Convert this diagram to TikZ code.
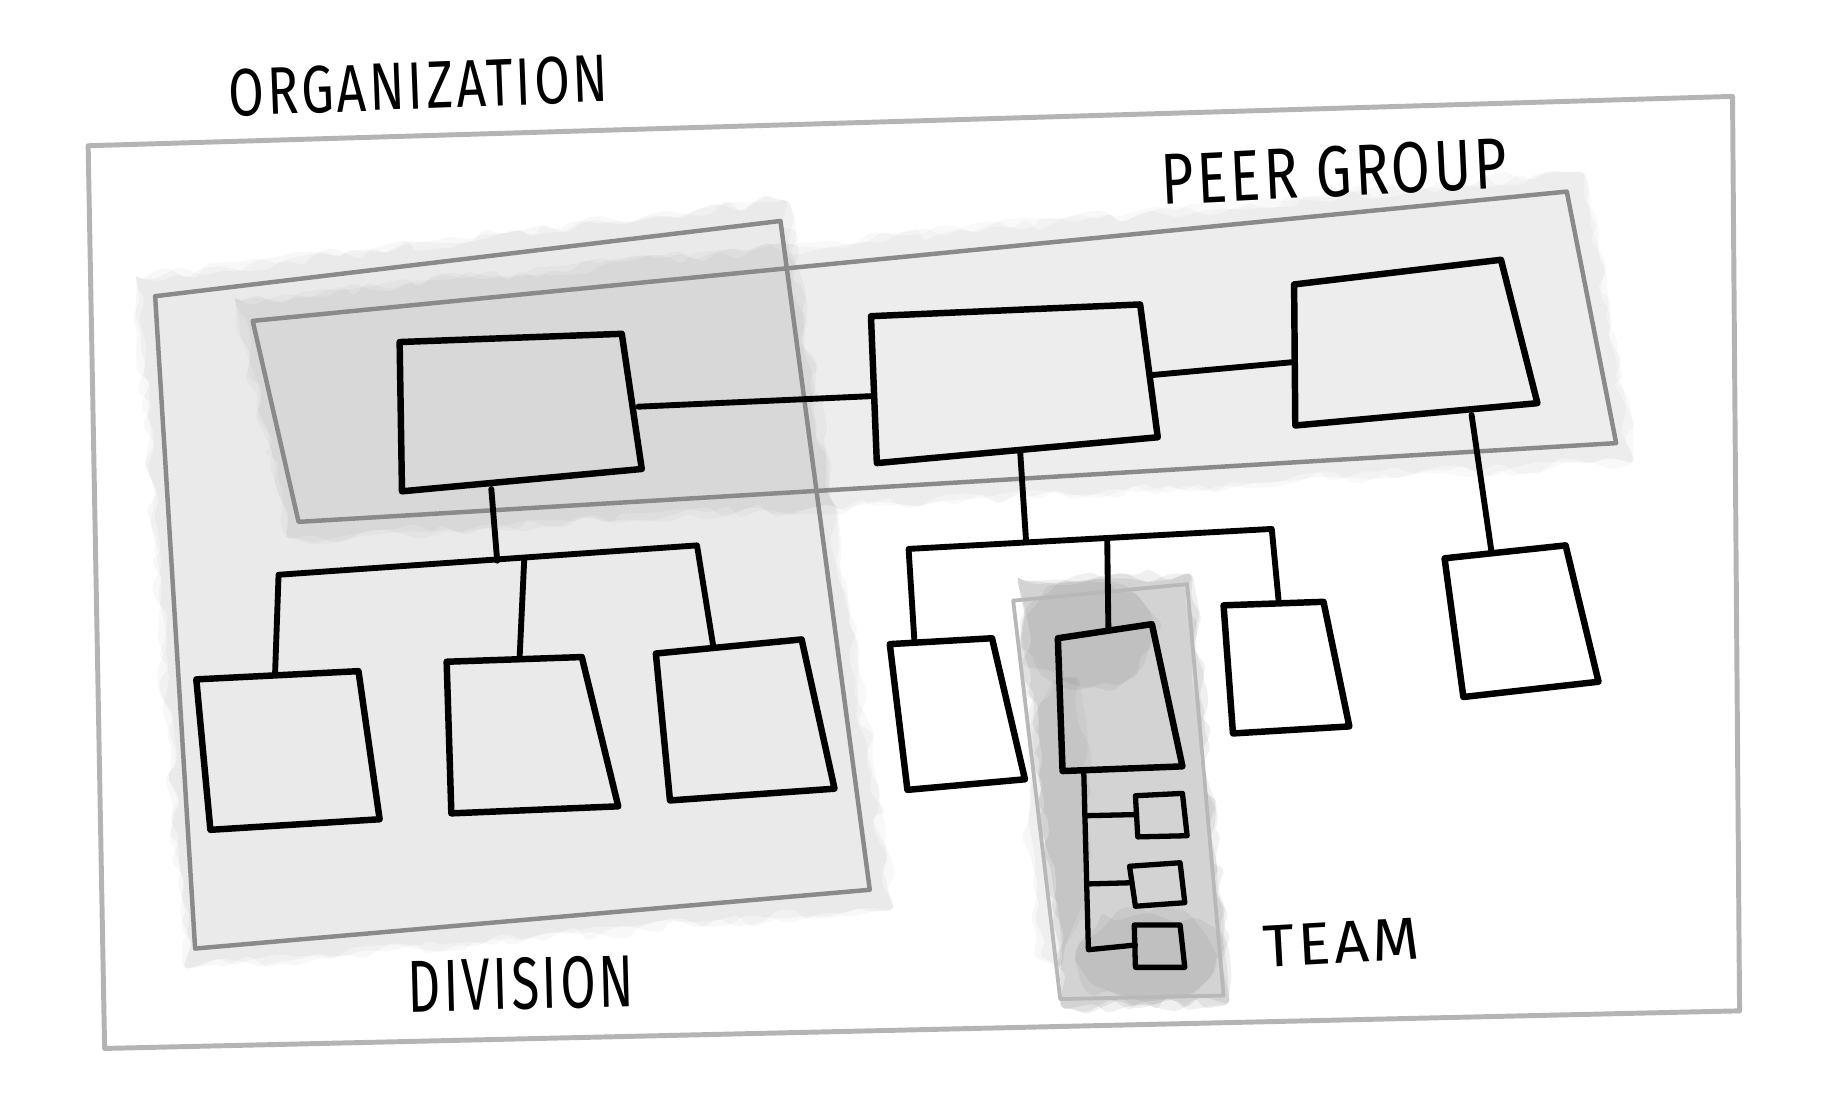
\documentclass[tikz,border=0pt]{standalone}
\usepackage{fontspec}
\usepackage{graphicx}
\usetikzlibrary{decorations.pathmorphing}
\newfontfamily\hand{Fira Sans}[LetterSpace=6]
\definecolor{orgc}{HTML}{B4B4B4}
\definecolor{grpc}{HTML}{8A8A8A}
\definecolor{teamc}{HTML}{B8B8B8}
\begin{document}
\pgfmathsetseed{42}
\begin{tikzpicture}[x=1pt,y=-1pt,
  blk/.style={line width=5.5pt, line join=round, line cap=round, draw=black},
  smallblk/.style={line width=4.5pt, line join=round, line cap=round, draw=black},
  conn/.style={line width=5pt, line cap=round, line join=round, draw=black},
  orgline/.style={line width=4.2pt, draw=orgc, line join=round},
  grpline/.style={line width=3.8pt, draw=grpc, line join=round},
  teamline/.style={line width=3.2pt, draw=teamc, line join=round},
  wash/.style={fill=black, draw=none, decorate, decoration={random steps, segment length=14pt, amplitude=7pt}, rounded corners=5pt},
  lbl/.style={inner sep=0pt, anchor=center}
]
\useasboundingbox (0,0) rectangle (1568,946);
\fill[white] (0,0) rectangle (1568,946);

% ---------- washes (layered for soft edges) ----------
\foreach \k in {1,2,3} {
  \fill[wash, fill opacity=0.027] (116,238) -- (668,170) -- (760,772) -- (158,824) -- cycle;
  \fill[wash, fill opacity=0.024] (200,256) -- (1345,146) -- (1390,392) -- (246,458) -- cycle;
  \fill[wash, fill opacity=0.06] (866,494) -- (1012,488) -- (1046,852) -- (905,858) -- cycle;
}
\foreach \k in {1,2} {
  \fill[wash, fill opacity=0.045] (925,540) ellipse [x radius=55, y radius=45];
  \fill[wash, fill opacity=0.045] (975,815) ellipse [x radius=60, y radius=38];
  \fill[wash, fill opacity=0.03] (900,700) ellipse [x radius=25, y radius=120];
}

% ---------- group frames ----------
\draw[orgline] (75,124) -- (1474,82) -- (1480,860) -- (89,892) -- cycle;
\draw[grpline] (132,252) -- (664,188) -- (740,757) -- (166,807) -- cycle;
\draw[grpline] (215,273) -- (1333,163) -- (1375,377) -- (254,444) -- cycle;
\draw[teamline] (862,511) -- (1010,497) -- (1041,847) -- (902,850) -- cycle;

% ---------- boxes ----------
\draw[blk] (340,291) -- (529,284) -- (546,399) -- (342,418) -- cycle;
\draw[blk] (741,269) -- (970,259) -- (985,372) -- (746,394) -- cycle;
\draw[blk] (1101,242) -- (1277,221) -- (1308,343) -- (1102,362) -- cycle;
\draw[blk] (167,578) -- (305,571) -- (323,697) -- (179,706) -- cycle;
\draw[blk] (380,563) -- (495,559) -- (526,686) -- (384,692) -- cycle;
\draw[blk] (558,556) -- (682,544) -- (710,671) -- (570,681) -- cycle;
\draw[blk] (757,548) -- (844,543) -- (872,663) -- (772,672) -- cycle;
\draw[blk] (900,543) -- (980,531) -- (1006,652) -- (904,656) -- cycle;
\draw[blk] (1041,515) -- (1126,512) -- (1148,618) -- (1049,624) -- cycle;
\draw[blk] (1229,475) -- (1332,464) -- (1360,580) -- (1245,593) -- cycle;
\draw[smallblk] (966,677) -- (1006,675) -- (1010,711) -- (968,712) -- cycle;
\draw[smallblk] (961,737) -- (1004,734) -- (1008,768) -- (966,771) -- cycle;
\draw[smallblk] (965,787) -- (1004,787) -- (1008,823) -- (966,823) -- cycle;

% ---------- connector points ----------
\coordinate (aR) at (543,346);
\coordinate (bL) at (742,337);
\coordinate (bR) at (981,319);
\coordinate (cL) at (1101,308);
\coordinate (aB) at (418,416);
\coordinate (aJ) at (423,477);
\coordinate (dbarL) at (237,489);
\coordinate (dbarM) at (446,476);
\coordinate (dbarR) at (593,464);
\coordinate (d1T) at (234,574);
\coordinate (d2T) at (442,561);
\coordinate (d3T) at (607,551);
\coordinate (bB) at (868,385);
\coordinate (bJ) at (873,461);
\coordinate (ebarL) at (773,467);
\coordinate (ebarM) at (942,458);
\coordinate (ebarR) at (1082,450);
\coordinate (e1T) at (778,546);
\coordinate (e2T) at (943,536);
\coordinate (e3T) at (1088,513);
\coordinate (cB) at (1252,353);
\coordinate (c2T) at (1269,470);
\coordinate (e2B) at (922,655);
\coordinate (tEnd) at (926,808);
\coordinate (t1) at (923,694);
\coordinate (t2) at (927,752);
\coordinate (s1L) at (967,693);
\coordinate (s2L) at (963,751);
\coordinate (s3L) at (966,804);

% ---------- connectors ----------
\draw[conn] (aR) -- (bL);
\draw[conn] (bR) -- (cL);
\draw[conn] (aB) -- (aJ);
\draw[conn] (d1T) -- (dbarL) -- (dbarR) -- (d3T);
\draw[conn] (dbarM) -- (d2T);
\draw[conn] (bB) -- (bJ);
\draw[conn] (e1T) -- (ebarL) -- (ebarR) -- (e3T);
\draw[conn] (ebarM) -- (e2T);
\draw[conn] (cB) -- (c2T);
\draw[smallblk] (e2B) -- (tEnd) -- (s3L);
\draw[smallblk] (t1) -- (s1L);
\draw[smallblk] (t2) -- (s2L);

% ---------- labels ----------
\node[lbl, rotate=2.2] (org) at (356,73) {\resizebox{323pt}{40pt}{\hand ORGANIZATION}};
\node[lbl, rotate=2.8] (peer) at (1135,146) {\resizebox{295pt}{43pt}{\hand PEER GROUP}};
\node[lbl, rotate=1.5] (div) at (443,837) {\resizebox{192pt}{44pt}{\hand DIVISION}};
\node[lbl, rotate=3.2] (team) at (1141,802) {\resizebox{133pt}{35pt}{\hand TEAM}};
\end{tikzpicture}
\end{document}
